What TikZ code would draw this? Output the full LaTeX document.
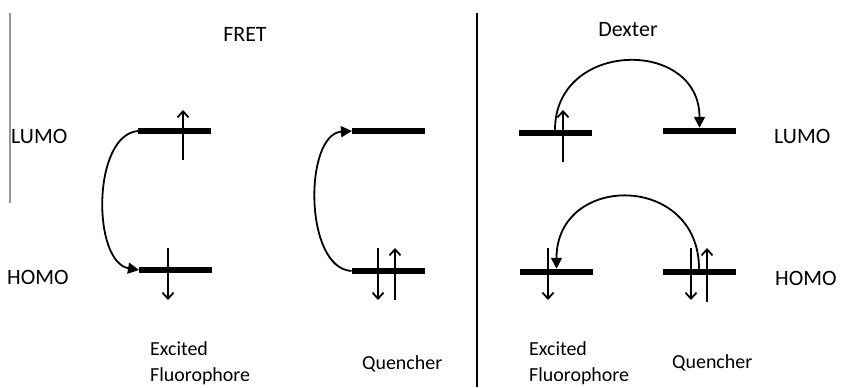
\documentclass[tikz,border=0pt]{standalone}
\usepackage{fontspec}
\setmainfont{Carlito}
\usetikzlibrary{arrows.meta}
\begin{document}
\begin{tikzpicture}[x=1bp,y=-1bp,
  bar/.style={fill=black, draw=none, minimum width=73bp, minimum height=6.5bp, inner sep=0pt, outer sep=0pt},
  spin/.style={line width=1.8bp, -{Straight Barb[length=6bp,width=11bp]}},
  hop/.style={line width=1.8bp, -{Triangle[length=11bp,width=11bp]}},
  big/.style={font=\fontsize{22}{26}\selectfont, inner sep=0pt, anchor=base west},
  small/.style={font=\fontsize{20}{24}\selectfont, inner sep=0pt, anchor=base west}]
\fill[white] (0,0) rectangle (842,387);
\useasboundingbox (0,0) rectangle (842,387);

% separators
\draw[gray!80, line width=1.5bp] (10,13) -- (10,203);
\draw[black, line width=2.2bp] (477,13) -- (477,387);

% titles and side labels
\node[big, anchor=base] (tfret) at (245,41) {FRET};
\node[big, anchor=base] (tdex) at (628,36) {Dexter};
\node[big] (lumoL) at (11,143) {LUMO};
\node[big] (homoL) at (7,284) {HOMO};
\node[big] (lumoR) at (774,143) {LUMO};
\node[big] (homoR) at (775,285) {HOMO};

% FRET bars
\node[bar] (fL) at (174.5,131) {};
\node[bar] (fH) at (175.5,270) {};
\node[bar] (qL) at (388.5,131) {};
\node[bar] (qH) at (388,271) {};

% Dexter bars
\node[bar] (dL) at (555,133) {};
\node[bar] (dR) at (699.5,131) {};
\node[bar] (dHL) at (556.5,272) {};
\node[bar] (dHR) at (699,272) {};

% spins FRET
\draw[spin] (183,160) -- (183,110);
\draw[spin] (168,248) -- (168,300);
\draw[spin] (378,248) -- (378,300);
\draw[spin] (395,300) -- (395,248);

% spins Dexter
\draw[spin] (563,162) -- (563,110);
\draw[spin] (548,248) -- (548,300);
\draw[spin] (691,248) -- (691,300);
\draw[spin] (707,302) -- (707,248);

% hops
\draw[hop] (fL.west) .. controls +(-46,4) and +(-47,-8) .. (fH.west);
\draw[hop] (qH.west) .. controls +(-48,-3) and +(-48,3) .. (qL.west);
\draw[hop] (dL.north) .. controls +(0,-90) and +(0,-90) .. (dR.north);
\draw[hop] (dHR.north) .. controls +(0,-96) and +(0,-96) .. (dHL.north);

% labels
\node[small] (exc1) at (150,355) {Excited};
\node[small] (flu1) at (150,381) {Fluorophore};
\node[small] (que1) at (362,369) {Quencher};
\node[small] (exc2) at (529,355) {Excited};
\node[small] (flu2) at (529,381) {Fluorophore};
\node[small] (que2) at (672,368) {Quencher};
\end{tikzpicture}
\end{document}
